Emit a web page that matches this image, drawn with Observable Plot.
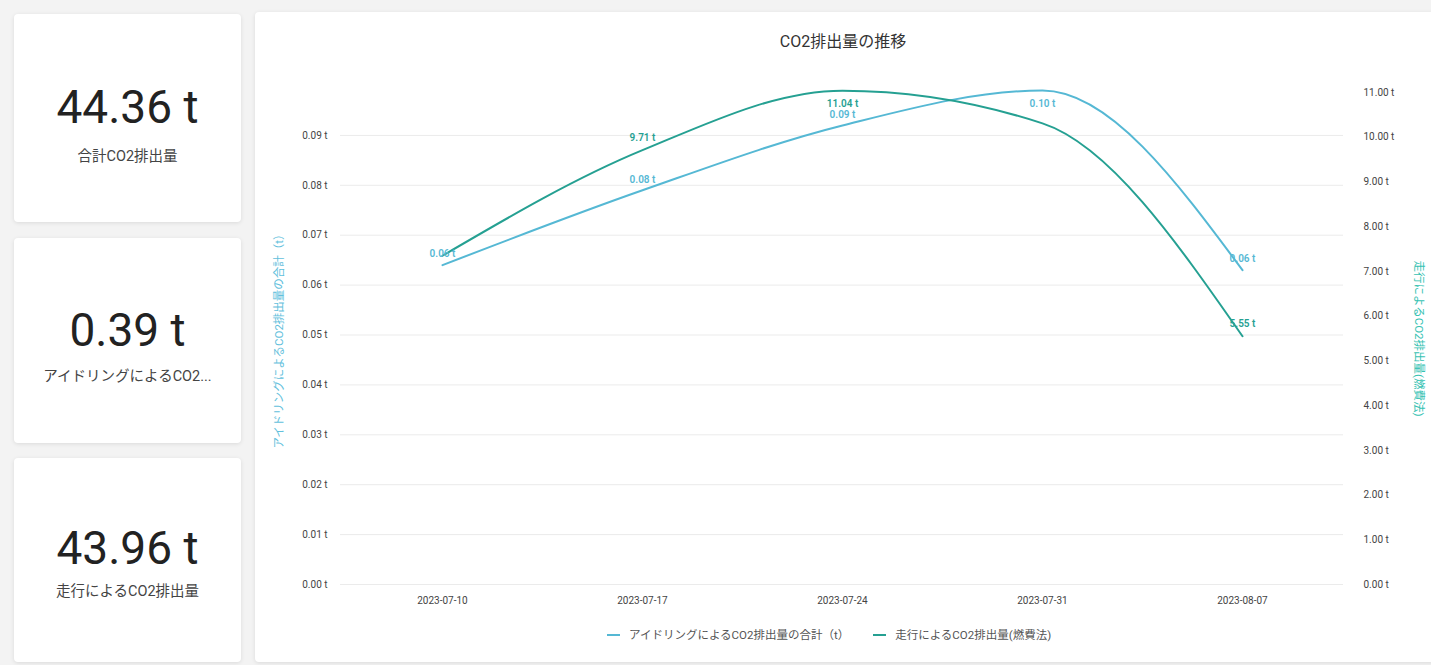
<!DOCTYPE html>
<html lang="ja">
<head>
<meta charset="utf-8">
<script src="https://cdn.jsdelivr.net/npm/d3@7"></script>
<script src="https://cdn.jsdelivr.net/npm/@observablehq/plot@0.6"></script>
<style>
  html, body { margin: 0; padding: 0; }
  body {
    width: 1431px; height: 665px; overflow: hidden; position: relative;
    background: #f3f3f3;
    font-family: Roboto, "Noto Sans CJK JP", sans-serif;
  }
  .card {
    position: absolute; left: 14px; width: 227px; background: #fff;
    border-radius: 4px; box-shadow: 0 1px 4px rgba(0,0,0,0.10);
  }
  .card .num {
    position: absolute; left: 0; right: 0; text-align: center;
    font-size: 46px; line-height: 50px; color: #222; font-weight: 400;
  }
  .card .sub {
    position: absolute; left: 4px; right: 4px; text-align: center;
    font-size: 14.5px; line-height: 20px; color: #444;
    white-space: nowrap;
  }
  #panel {
    position: absolute; left: 255px; top: 12px; width: 1180px; height: 650px;
    background: #fff; border-radius: 4px; box-shadow: 0 1px 4px rgba(0,0,0,0.10);
  }
  #title {
    position: absolute; left: 0; width: 1176px; top: 19px; text-align: center;
    font-size: 16px; line-height: 22px; color: #333;
  }
  #chart { position: absolute; left: 0; top: 50px; }
  #legend {
    position: absolute; top: 614px; left: 352px; display: flex; gap: 24px;
    font-size: 11.5px; color: #555; line-height: 18px;
  }
  #legend .item { display: flex; align-items: center; }
  #legend .sw { width: 13px; height: 2px; margin-right: 9px; }
</style>
</head>
<body>
<div class="card" style="top:14px;height:208px;">
  <div class="num" style="top:68px;">44.36 t</div>
  <div class="sub" style="top:133px;">合計CO2排出量</div>
</div>
<div class="card" style="top:238px;height:205px;">
  <div class="num" style="top:67px;">0.39 t</div>
  <div class="sub" style="top:129px;">アイドリングによるCO2...</div>
</div>
<div class="card" style="top:458px;height:204px;">
  <div class="num" style="top:65px;">43.96 t</div>
  <div class="sub" style="top:124px;">走行によるCO2排出量</div>
</div>
<div id="panel">
  <div id="title">CO2排出量の推移</div>
  <div id="chart"></div>
  <div id="legend"></div>
</div>
<script>
// ---- data ----
const dates = ["2023-07-10", "2023-07-17", "2023-07-24", "2023-07-31", "2023-08-07"];
const idling = [0.064, 0.079, 0.092, 0.099, 0.063];          // t (left axis)
const driving = [7.35, 9.71, 11.04, 10.31, 5.55];            // t (right axis)
const idlingLabels = ["0.06 t", "0.08 t", "0.09 t", "0.10 t", "0.06 t"];
const drivingLabels = ["", "9.71 t", "11.04 t", "", "5.55 t"];
const leftTicks = [0, 0.01, 0.02, 0.03, 0.04, 0.05, 0.06, 0.07, 0.08, 0.09];
const rightTicks = [0, 1, 2, 3, 4, 5, 6, 7, 8, 9, 10, 11];
const seriesNames = ["アイドリングによるCO2排出量の合計（t）", "走行によるCO2排出量(燃費法)"];
const leftTitle = "アイドリングによるCO2排出量の合計（t）";
const rightTitle = "走行によるCO2排出量(燃費法)";

// ---- styles ----
const cIdle = "#55b8d4";
const cDrive = "#25a092";
const cIdleTitle = "#62c0dc";
const cDriveTitle = "#36c2b2";

const yMax = 0.0986;
const k = yMax / 11;   // right-axis unit -> left-axis unit

const idleData = dates.map((d, i) => ({date: d, v: idling[i], label: idlingLabels[i]}));
const driveData = dates.map((d, i) => ({date: d, v: driving[i] * k, label: drivingLabels[i]}));
const below = d => d.v / yMax > 0.95;

const fontFamily = 'Roboto, "Noto Sans CJK JP", sans-serif';

const chart = Plot.plot({
  width: 1176,
  height: 556,
  marginLeft: 85,
  marginRight: 88,
  marginTop: 30,
  marginBottom: 34,
  style: {fontFamily, fontSize: "10px", color: "#444", background: "transparent"},
  x: {type: "point", domain: dates, padding: 0.5},
  y: {domain: [0, yMax]},
  marks: [
    Plot.gridY(leftTicks, {stroke: "#ebebeb", strokeOpacity: 1, strokeWidth: 1}),
    Plot.axisY(leftTicks, {anchor: "left", tickSize: 0, tickPadding: 13, label: null,
      tickFormat: d => d.toFixed(2) + " t", fill: "#444"}),
    Plot.axisY(rightTicks.map(v => v * k), {anchor: "right", tickSize: 0, tickPadding: 20, label: null,
      tickFormat: d => (d / k).toFixed(2) + " t", fill: "#444"}),
    Plot.axisX({tickSize: 0, tickPadding: 12, label: null, fill: "#444"}),
    Plot.text([leftTitle], {frameAnchor: "left", textAnchor: "middle", dx: -61, rotate: -90,
      text: d => d, fill: cIdleTitle, fontSize: 11.5}),
    Plot.text([rightTitle], {frameAnchor: "right", textAnchor: "middle", dx: 75, rotate: 90,
      text: d => d, fill: cDriveTitle, fontSize: 11.5}),
    Plot.lineY(idleData, {x: "date", y: "v", stroke: cIdle, strokeWidth: 2, curve: "monotone-x"}),
    Plot.lineY(driveData, {x: "date", y: "v", stroke: cDrive, strokeWidth: 2, curve: "monotone-x"}),
    Plot.text(idleData.filter(d => !below(d)), {x: "date", y: "v", text: "label", dy: -11,
      fill: cIdle, fontWeight: 600, fontSize: 10}),
    Plot.text(idleData.filter(d => below(d)), {x: "date", y: "v", text: "label", dy: 13,
      fill: cIdle, fontWeight: 600, fontSize: 10}),
    Plot.text(driveData.filter(d => d.label && !below(d)), {x: "date", y: "v", text: "label", dy: -12,
      fill: cDrive, fontWeight: 600, fontSize: 10}),
    Plot.text(driveData.filter(d => d.label && below(d)), {x: "date", y: "v", text: "label", dy: 13,
      fill: cDrive, fontWeight: 600, fontSize: 10})
  ]
});
document.getElementById("chart").appendChild(chart);

const legend = document.getElementById("legend");
[[seriesNames[0], cIdle], [seriesNames[1], cDrive]].forEach(([name, color]) => {
  const item = document.createElement("div");
  item.className = "item";
  const sw = document.createElement("span");
  sw.className = "sw";
  sw.style.background = color;
  const t = document.createElement("span");
  t.textContent = name;
  item.appendChild(sw);
  item.appendChild(t);
  legend.appendChild(item);
});
</script>
</body>
</html>
